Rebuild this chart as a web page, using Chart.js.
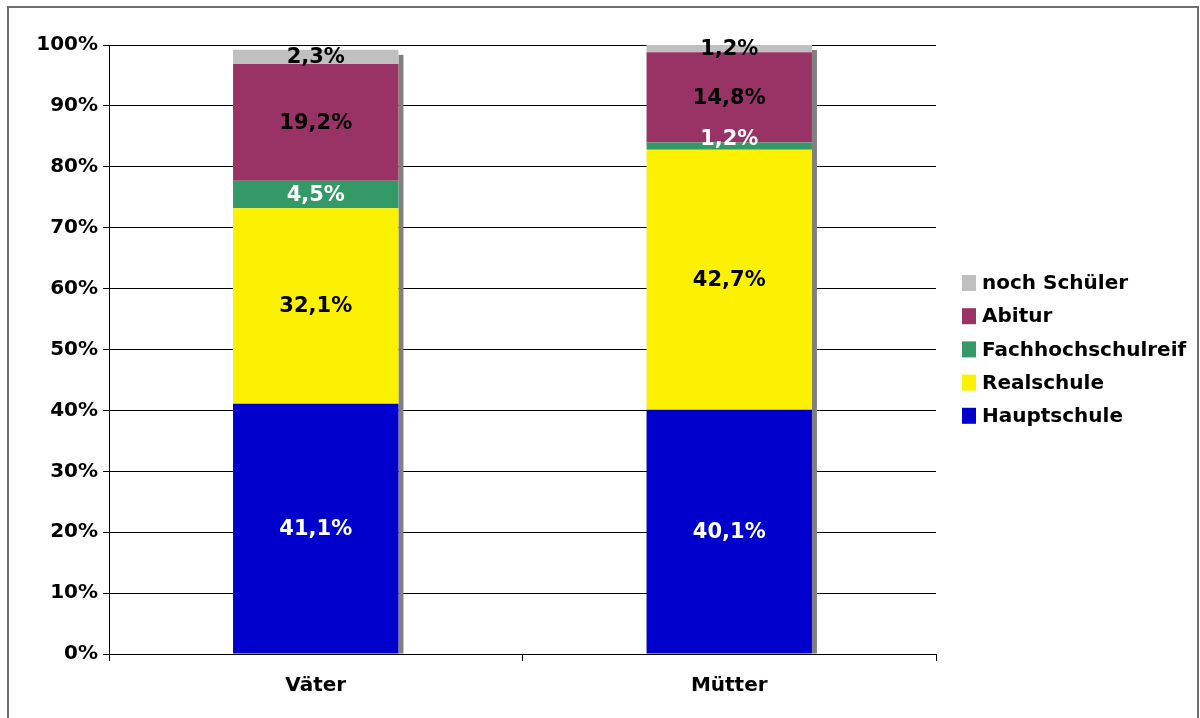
<!DOCTYPE html>
<html>
<head>
<meta charset="utf-8">
<script src="https://cdn.jsdelivr.net/npm/chart.js@4/dist/chart.umd.min.js"></script>
<style>
  body { margin: 0; background: #fff; }
  #wrap { position: relative; width: 1200px; height: 718px; }
</style>
</head>
<body>
<div id="wrap"><canvas id="chart" width="1200" height="718"></canvas></div>
<script>
// Schulabschluss der Eltern (Anteile in %)
const categories = ['Väter', 'Mütter'];
const serieNames = ['Hauptschule', 'Realschule', 'Fachhochschulreif', 'Abitur', 'noch Schüler'];
const hauptschule = [41.1, 40.1];
const realschule = [32.1, 42.7];
const fachhochschulreif = [4.5, 1.2];
const abitur = [19.2, 14.8];
const nochSchueler = [2.3, 1.2];
const yTicks = [0, 10, 20, 30, 40, 50, 60, 70, 80, 90, 100];

const colors = ['#0000CC', '#FCF200', '#339966', '#993366', '#C0C0C0'];
const labelColors = ['#fff', '#000', '#fff', '#000', '#000'];
const FONT = '"DejaVu Sans", Verdana, sans-serif';

const seriesValues = [hauptschule, realschule, fachhochschulreif, abitur, nochSchueler];

// Rahmen um das ganze Diagramm
const framePlugin = {
  id: 'frame',
  afterDraw(chart) {
    const ctx = chart.ctx;
    ctx.save();
    ctx.strokeStyle = '#6e6e6e';
    ctx.lineWidth = 2;
    ctx.strokeRect(8, 7, 1190, 730);
    ctx.restore();
  }
};

// grauer Schatten rechts neben den Säulen
const shadowPlugin = {
  id: 'barShadow',
  beforeDatasetsDraw(chart) {
    const ctx = chart.ctx;
    const top = chart.getDatasetMeta(chart.data.datasets.length - 1);
    const bottom = chart.getDatasetMeta(0);
    ctx.save();
    ctx.fillStyle = '#808080';
    top.data.forEach((bar, i) => {
      const right = bar.x + bar.width / 2;
      const base = bottom.data[i].base;
      ctx.fillRect(right, bar.y + 5, 5, base - bar.y - 5);
    });
    ctx.restore();
  }
};

// Werte in die Segmente schreiben
const labelPlugin = {
  id: 'segLabels',
  afterDatasetsDraw(chart) {
    const ctx = chart.ctx;
    ctx.save();
    ctx.font = 'bold 21px ' + FONT;
    ctx.textAlign = 'center';
    ctx.textBaseline = 'middle';
    chart.data.datasets.forEach((ds, d) => {
      const meta = chart.getDatasetMeta(d);
      meta.data.forEach((bar, i) => {
        let y = (bar.y + bar.base) / 2 + 1;
        // kleines Segment: Beschriftung leicht nach oben versetzt wie im Original
        if (bar.base - bar.y < 10 && d < chart.data.datasets.length - 1) y -= 8;
        ctx.fillStyle = labelColors[d];
        ctx.fillText(ds.data[i].toFixed(1).replace('.', ',') + '%', bar.x, y);
      });
    });
    ctx.restore();
  }
};

// Legende rechts (umgekehrte Reihenfolge)
const legendPlugin = {
  id: 'sideLegend',
  afterDraw(chart) {
    const ctx = chart.ctx;
    ctx.save();
    ctx.font = 'bold 20px ' + FONT;
    ctx.textBaseline = 'middle';
    ctx.textAlign = 'left';
    const n = chart.data.datasets.length;
    for (let k = 0; k < n; k++) {
      const d = n - 1 - k;
      const y = 283 + k * 33.2;
      ctx.fillStyle = colors[d];
      ctx.fillRect(962, y - 8, 14, 16);
      ctx.fillStyle = '#000';
      ctx.fillText(chart.data.datasets[d].label, 982, y + 1);
    }
    ctx.restore();
  }
};

new Chart(document.getElementById('chart'), {
  type: 'bar',
  data: {
    labels: categories,
    datasets: serieNames.map((name, i) => ({
      label: name,
      data: seriesValues[i],
      backgroundColor: colors[i],
      borderWidth: 0,
      barPercentage: 0.4,
      categoryPercentage: 1.0
    }))
  },
  options: {
    responsive: false,
    animation: false,
    layout: { padding: { left: 0, top: 45, right: 264, bottom: 0 } },
    plugins: {
      legend: { display: false },
      tooltip: { enabled: false }
    },
    scales: {
      x: {
        stacked: true,
        afterFit: s => { s.height = 64; },
        grid: { drawOnChartArea: false, drawTicks: true, tickLength: 7, color: '#000', offset: true },
        border: { display: true, color: '#000', width: 1 },
        ticks: { color: '#000', font: { family: FONT, size: 20, weight: 'bold' }, padding: 13 }
      },
      y: {
        stacked: true,
        min: 0,
        max: 100,
        afterFit: s => { s.width = 109; },
        afterBuildTicks: s => { s.ticks = yTicks.map(v => ({ value: v })); },
        grid: { color: '#000', lineWidth: 1, tickLength: 6 },
        border: { display: true, color: '#000', width: 1 },
        ticks: {
          color: '#000',
          padding: 5,
          font: { family: FONT, size: 20, weight: 'bold' },
          callback: v => v + '%'
        }
      }
    }
  },
  plugins: [shadowPlugin, labelPlugin, legendPlugin, framePlugin]
});
</script>
</body>
</html>
